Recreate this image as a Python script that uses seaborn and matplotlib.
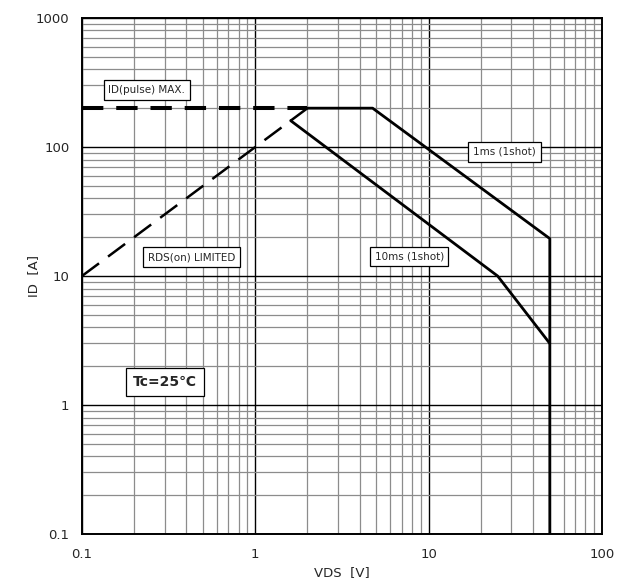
import seaborn as sns
import matplotlib
matplotlib.use("Agg")
import matplotlib.pyplot as plt
from matplotlib.ticker import LogLocator, FixedLocator, FixedFormatter, NullFormatter

# curve points (VDS [V], ID [A])
pulse_v = [0.1, 2.0]
pulse_i = [200, 200]

rds_v = [0.1, 2.0]
rds_i = [10, 200]

ms1_v = [2.0, 4.75, 50, 50]
ms1_i = [200, 200, 19.5, 0.1]

ms10_v = [1.6, 25, 50]
ms10_i = [160, 10, 3]

tick_vals = [0.1, 1, 10, 100, 1000]
tick_text = ["0.1", "1", "10", "100", "1000"]

sns.set_style("white")
plt.rcParams["font.family"] = ["DejaVu Sans", "Noto Sans CJK JP"]

fig = plt.figure(figsize=(6.32, 5.88), dpi=100)
ax = fig.add_axes([0.1297, 0.0918, 0.8228, 0.8776])

sns.lineplot(x=pulse_v, y=pulse_i, sort=False, estimator=None, ax=ax,
             color="black", lw=2.9, zorder=5)
ax.lines[-1].set_dashes([5.3, 3.2])
sns.lineplot(x=rds_v, y=rds_i, sort=False, estimator=None, ax=ax,
             color="black", lw=1.8, zorder=5)
ax.lines[-1].set_dashes([8.5, 4.5])
sns.lineplot(x=ms1_v, y=ms1_i, sort=False, estimator=None, ax=ax,
             color="black", lw=2, zorder=6)
sns.lineplot(x=ms10_v, y=ms10_i, sort=False, estimator=None, ax=ax,
             color="black", lw=2, zorder=6)

ax.set_xscale("log")
ax.set_yscale("log")
ax.set_xlim(0.1, 100)
ax.set_ylim(0.1, 1000)

for axis in (ax.xaxis, ax.yaxis):
    axis.set_major_locator(FixedLocator(tick_vals))
    axis.set_major_formatter(FixedFormatter(tick_text))
    axis.set_minor_locator(LogLocator(base=10, subs=range(2, 10), numticks=20))
    axis.set_minor_formatter(NullFormatter())

ax.grid(which="major", color="black", lw=1.0, zorder=1)
ax.grid(which="minor", color="#8c8c8c", lw=0.9, zorder=0)
ax.tick_params(which="both", length=0, labelsize=9.5)
ax.tick_params(axis="x", pad=10)
ax.tick_params(axis="y", pad=9)
for s in ax.spines.values():
    s.set_color("black")
    s.set_linewidth(1.4)

ax.set_xlabel("VDS  [V]", fontsize=9.5, labelpad=4)
ax.set_ylabel("ID  [A]", fontsize=9.5, labelpad=-3)

box = dict(boxstyle="square,pad=0.45", fc="white", ec="black", lw=0.9)
ax.text(0.237, 277, "ID(pulse) MAX.", fontsize=7.5, ha="center", va="center", bbox=box, zorder=7)
ax.text(0.43, 14.0, "RDS(on) LIMITED", fontsize=7.5, ha="center", va="center", bbox=box, zorder=7)
ax.text(27.4, 91.5, "1ms (1shot)", fontsize=7.5, ha="center", va="center", bbox=box, zorder=7)
ax.text(7.72, 14.2, "10ms (1shot)", fontsize=7.5, ha="center", va="center", bbox=box, zorder=7)
ax.text(0.30, 1.51, "Tc=25℃", fontsize=10, fontweight="bold", ha="center", va="center",
        bbox=dict(boxstyle="square,pad=0.5", fc="white", ec="black", lw=0.9), zorder=7)

fig.savefig("out.png", dpi=100)
